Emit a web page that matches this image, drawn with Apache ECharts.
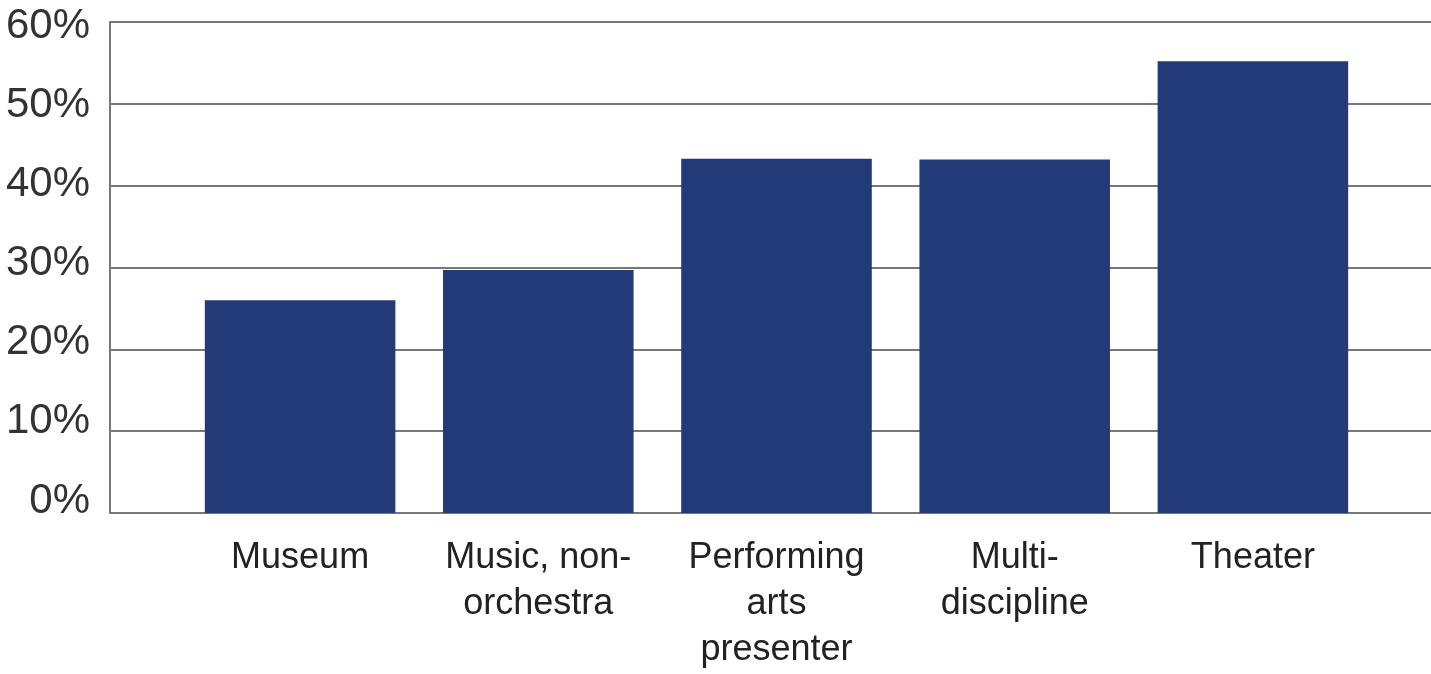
<!DOCTYPE html>
<html>
<head>
<meta charset="utf-8">
<script src="https://cdn.jsdelivr.net/npm/echarts@6/dist/echarts.min.js"></script>
<style>html,body{margin:0;padding:0;background:#fff;}#c{width:1431px;height:674px;}</style>
</head>
<body>
<div id="c"></div>
<script>
const categories = ['Museum', 'Music, non-\norchestra', 'Performing\narts\npresenter', 'Multi-\ndiscipline', 'Theater'];
const values = [26.0, 29.7, 43.3, 43.2, 55.2];
const yTicks = [0, 10, 20, 30, 40, 50, 60];

const chart = echarts.init(document.getElementById('c'));
const font = '"Liberation Sans Narrow", "Liberation Sans", sans-serif';
const yMin = yTicks[0], yMax = yTicks[yTicks.length - 1];
chart.setOption({
  animation: false,
  grid: [
    { left: 110, right: 0, top: 22, bottom: 161 },
    { left: 181, right: 59, top: 22, bottom: 161 },
    { left: 110, right: 0, top: 26, bottom: 173 }
  ],
  xAxis: [
    { gridIndex: 0, type: 'value', show: false, min: 0, max: 1 },
    {
      gridIndex: 1, type: 'category', data: categories,
      axisLine: { show: false }, axisTick: { show: false },
      axisLabel: { color: '#222', fontSize: 36, fontFamily: font, lineHeight: 46, margin: 22, interval: 0 }
    },
    { gridIndex: 2, type: 'value', show: false, min: 0, max: 1 }
  ],
  yAxis: [
    {
      gridIndex: 0, type: 'value', min: yMin, max: yMax, interval: 10,
      axisLine: { show: true, lineStyle: { color: '#777', width: 2 } },
      axisTick: { show: false },
      splitLine: { show: true, lineStyle: { color: '#777', width: 2 } },
      axisLabel: { show: false }
    },
    { gridIndex: 1, type: 'value', min: yMin, max: yMax, show: false, splitLine: { show: false } },
    {
      gridIndex: 2, type: 'value', min: yMin, max: yMax, interval: 10,
      axisLine: { show: false }, axisTick: { show: false }, splitLine: { show: false },
      axisLabel: { formatter: '{value}%', color: '#333', fontSize: 42, fontFamily: font, margin: 20 }
    }
  ],
  series: [{
    type: 'bar', xAxisIndex: 1, yAxisIndex: 1, data: values,
    barCategoryGap: '20%',
    itemStyle: { color: '#223a78' }
  }]
});
</script>
</body>
</html>
